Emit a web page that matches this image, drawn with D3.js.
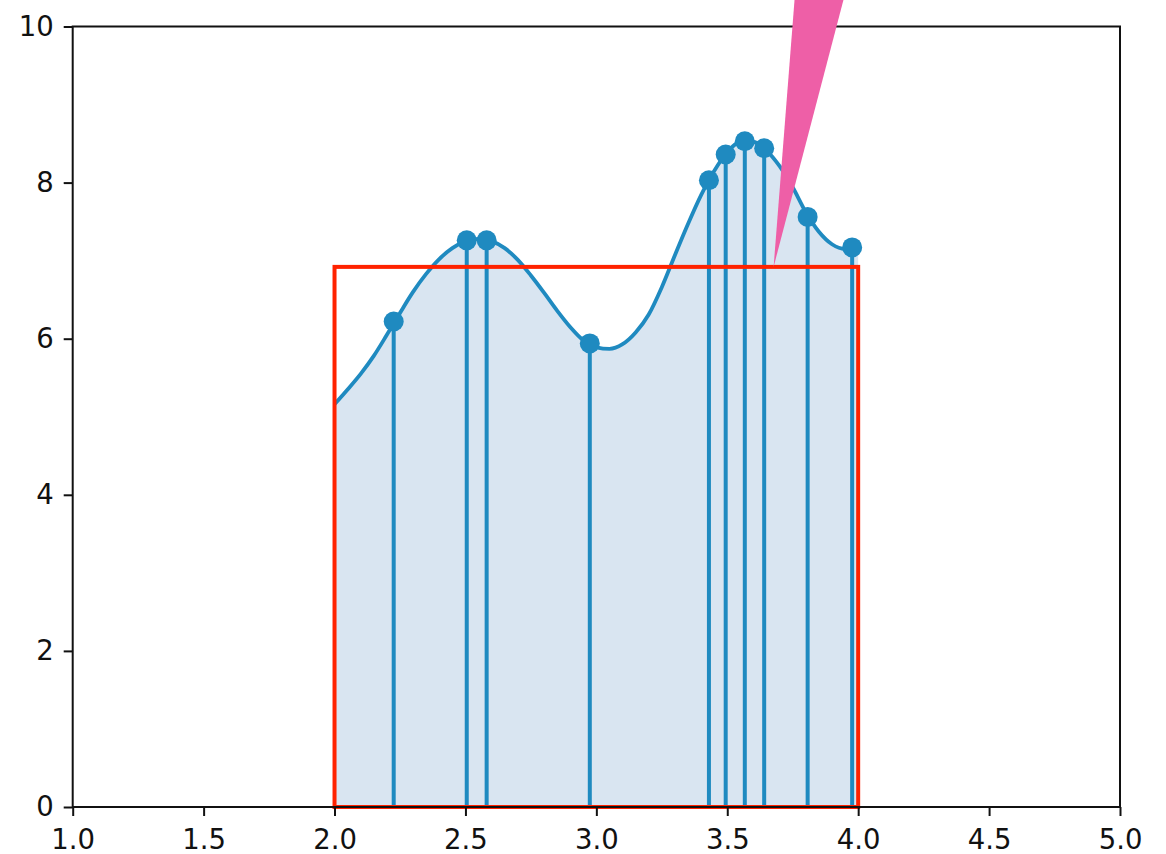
<!DOCTYPE html>
<html>
<head>
<meta charset="utf-8">
<script src="https://cdn.jsdelivr.net/npm/d3@7"></script>
<style>
  html, body { margin: 0; padding: 0; background: #ffffff; }
  svg { display: block; }
  .tick text { font-family: "DejaVu Sans", sans-serif; font-size: 27.5px; fill: #111; }
</style>
</head>
<body>
<svg id="chart" width="1166" height="854"></svg>
<script>
// Smooth curve samples over the integration interval
const curveX = [2.00, 2.05, 2.10, 2.15, 2.20, 2.25, 2.30, 2.35, 2.40, 2.45,
                2.50, 2.55, 2.60, 2.65, 2.70, 2.75, 2.80, 2.85, 2.90, 2.95,
                3.00, 3.05, 3.10, 3.15, 3.20, 3.25, 3.30, 3.35, 3.40, 3.45,
                3.50, 3.55, 3.60, 3.65, 3.70, 3.75, 3.80, 3.85, 3.90, 3.95, 4.00];
const curveY = [5.16, 5.35, 5.55, 5.78, 6.05, 6.33, 6.60, 6.83, 7.02, 7.16,
                7.25, 7.28, 7.25, 7.16, 7.01, 6.81, 6.59, 6.36, 6.15, 5.98,
                5.89, 5.87, 5.93, 6.08, 6.31, 6.66, 7.07, 7.47, 7.84, 8.15,
                8.39, 8.52, 8.52, 8.41, 8.21, 7.94, 7.62, 7.37, 7.21, 7.15, 7.22];

// Sample points shown as stems
const sampleX = [2.226, 2.505, 2.581, 2.975, 3.430, 3.494, 3.567, 3.641, 3.807, 3.977];
const sampleY = [6.22, 7.26, 7.26, 5.94, 8.03, 8.36, 8.53, 8.44, 7.56, 7.17];

// Mean-value rectangle over [2, 4]
const rectX = [2.0, 4.0];
const rectHeight = 6.92;

// Wedge pointer: tip and the two far corners
const wedgeX = [3.677, 3.763, 3.964];
const wedgeY = [6.92, 10.6, 10.6];

// Axis ticks
const xTicks = [1.0, 1.5, 2.0, 2.5, 3.0, 3.5, 4.0, 4.5, 5.0];
const yTicks = [0, 2, 4, 6, 8, 10];

const svg = d3.select("#chart");
const plotLeft = 72.7, plotRight = 1120, plotTop = 26.5, plotBottom = 807;

const x = d3.scaleLinear().domain([1, 5]).range([plotLeft, plotRight]);
const y = d3.scaleLinear().domain([0, 10]).range([plotBottom, plotTop]);

const blue = "#1f8ac0";

const curve = curveX.map((d, i) => [d, curveY[i]]);
const samples = sampleX.map((d, i) => [d, sampleY[i]]);

// Area under the curve
svg.append("path")
  .datum(curve)
  .attr("fill", "#d9e5f1")
  .attr("d", d3.area().x(d => x(d[0])).y0(y(0)).y1(d => y(d[1])).curve(d3.curveMonotoneX));

// Stems
svg.append("g").selectAll("line")
  .data(samples)
  .join("line")
  .attr("x1", d => x(d[0])).attr("x2", d => x(d[0]))
  .attr("y1", y(0)).attr("y2", d => y(d[1]))
  .attr("stroke", blue).attr("stroke-width", 4);

// Curve line
svg.append("path")
  .datum(curve)
  .attr("fill", "none")
  .attr("stroke", blue)
  .attr("stroke-width", 3.8)
  .attr("d", d3.line().x(d => x(d[0])).y(d => y(d[1])).curve(d3.curveMonotoneX));

// Markers
svg.append("g").selectAll("circle")
  .data(samples)
  .join("circle")
  .attr("cx", d => x(d[0])).attr("cy", d => y(d[1]))
  .attr("r", 10)
  .attr("fill", blue);

// Mean-value rectangle
svg.append("rect")
  .attr("x", x(rectX[0]))
  .attr("y", y(rectHeight))
  .attr("width", x(rectX[1]) - x(rectX[0]))
  .attr("height", y(0) - y(rectHeight))
  .attr("fill", "none")
  .attr("stroke", "#ff2200")
  .attr("stroke-width", 4);

// Axes
const xAxis = d3.axisBottom(x).tickValues(xTicks).tickFormat(d3.format(".1f"))
  .tickSize(9).tickSizeOuter(0).tickPadding(13.5);
const yAxis = d3.axisLeft(y).tickValues(yTicks).tickFormat(d3.format("d"))
  .tickSize(9).tickSizeOuter(0).tickPadding(10);

const gx = svg.append("g").attr("transform", `translate(0,${plotBottom})`).call(xAxis);
const gy = svg.append("g").attr("transform", `translate(${plotLeft},0)`).call(yAxis);
[gx, gy].forEach(g => {
  g.selectAll(".domain").remove();
  g.selectAll(".tick line").attr("stroke", "#111").attr("stroke-width", 2);
});

// Frame
svg.append("rect")
  .attr("x", plotLeft).attr("y", plotTop)
  .attr("width", plotRight - plotLeft).attr("height", plotBottom - plotTop)
  .attr("fill", "none").attr("stroke", "#111").attr("stroke-width", 2);

// Wedge pointer on top
svg.append("path")
  .datum(wedgeX.map((d, i) => [x(d), y(wedgeY[i])]))
  .attr("fill", "#ee5fa7")
  .attr("d", d => d3.line()(d) + "Z");
</script>
</body>
</html>
